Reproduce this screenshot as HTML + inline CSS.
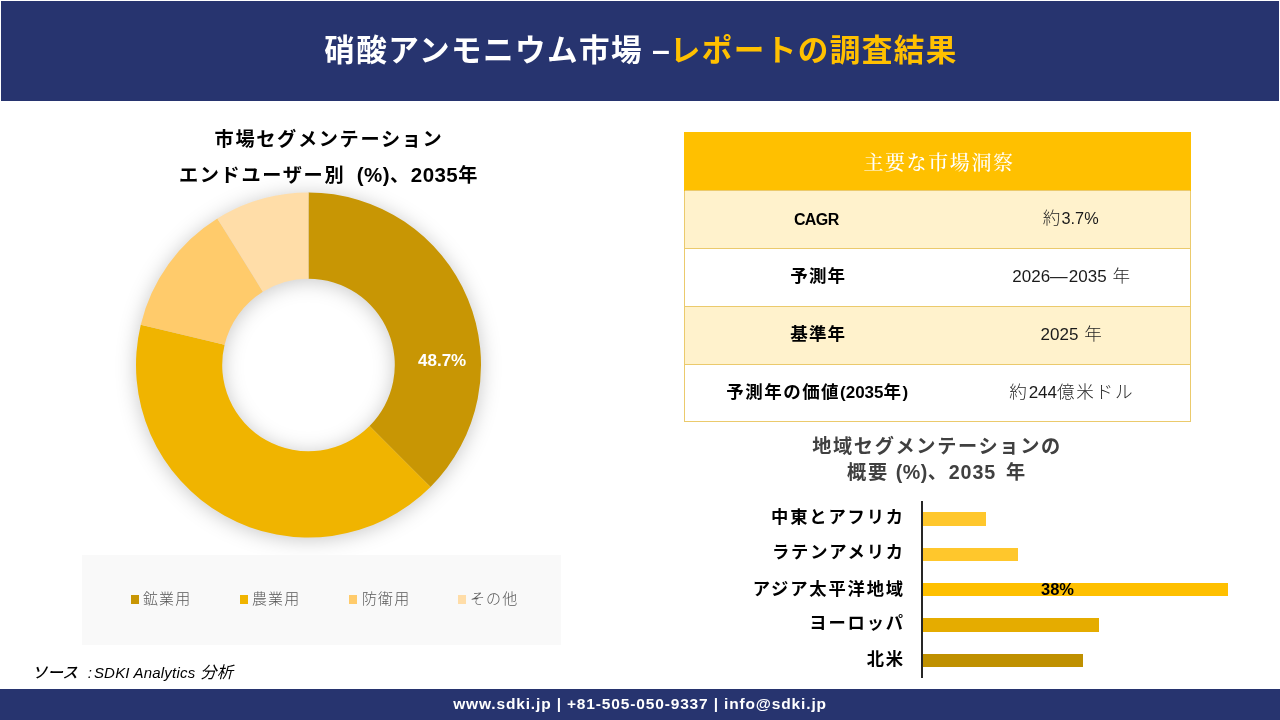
<!DOCTYPE html>
<html lang="ja">
<head>
<meta charset="utf-8">
<title>硝酸アンモニウム市場 –レポートの調査結果</title>
<style>
  html, body { margin: 0; padding: 0; }
  body {
    width: 1280px; height: 720px; overflow: hidden; position: relative;
    background: #ffffff; color: #000;
    font-family: "Liberation Sans", "Noto Sans CJK JP", sans-serif;
  }
  .abs { position: absolute; white-space: nowrap; }
  .header { left: 1px; top: 1px; width: 1278px; height: 100px; background: #27346f; }
  .title {
    left: 1px; width: 1280px; top: 27px; height: 46px; line-height: 46px; text-align: center;
    font-size: 30.6px; letter-spacing: 1.4px; font-weight: bold; color: #ffffff;
  }
  .title .d { font-size: 32px; letter-spacing: 0; }
  .title .y { color: #ffc000; }

  .ctitle { left: 109px; width: 440px; text-align: center; font-weight: bold; font-size: 19.2px; letter-spacing: 1.65px; line-height: 28px; color: #000; }
  .ctitle { word-spacing: 4.5px; }
  .ctitle .l { font-size: 20.5px; letter-spacing: 0.45px; }

  .legend { left: 82px; top: 555px; width: 479px; height: 90px; background: #f9f9f9; }
  .lg { font-size: 15px; letter-spacing: 1.1px; font-weight: 300; line-height: 20px; color: #595959; top: 589px; }
  .lg i { position: absolute; left: -12px; top: 6px; width: 8px; height: 9px; display: block; }

  .source { left: 32px; top: 661px; font-size: 16.3px; line-height: 22px; font-style: italic; color: #000; }
  .source .l { font-size: 15px; }
  .source .k { font-size: 15.5px; font-weight: 500; }

  .footer { left: 0; top: 689px; width: 1280px; height: 31px; background: #27346f; }
  .ftext { left: 0; width: 1280px; top: 693px; height: 22px; line-height: 22px; text-align: center; color: #fff; font-weight: bold; font-size: 15.5px; letter-spacing: 0.85px; }

  table.kt { position: absolute; left: 684px; top: 132px; width: 506px; border-collapse: collapse; table-layout: fixed; }
  table.kt th { background: #ffc000; border-left: 1px solid #ffc000; border-right: 1px solid #ffc000; height: 58px; padding: 0 0 0 3px; color: #fff; font-weight: 500;
    font-family: "Liberation Serif", "Noto Serif CJK SC", serif; font-size: 20px; letter-spacing: 1.6px; }
  table.kt td { height: 57px; padding: 0; text-align: center; line-height: 24px; border-top: 1px solid #ebca6c; border-bottom: 1px solid #ebca6c; }
  table.kt tr.o td { background: #fff2cc; }
  table.kt tr.last td { height: 56px; }
  table.kt td.k { font-weight: bold; font-size: 17.5px; letter-spacing: 1.17px; color: #000; border-left: 1px solid #ebca6c; }
  table.kt td.v { font-size: 17.6px; letter-spacing: 1.07px; color: #262626; font-weight: 300; border-right: 1px solid #ebca6c; }
  table.kt td span { position: relative; top: -2px; display: inline-block; }
  table.kt .l { font-size: 17px; letter-spacing: 0; }
  table.kt td.v .l { font-size: 17px; color: #1a1a1a; font-weight: normal; }
  .btitle { left: 737px; width: 400px; text-align: center; font-weight: bold; font-size: 19.2px; letter-spacing: 1.65px; line-height: 26px; color: #404040; }
  .btitle .l { font-size: 19.7px; letter-spacing: 0.5px; }
  .axis { left: 921px; top: 501px; width: 2px; height: 177px; background: #262626; }
  .bar { left: 923px; height: 14px; }
  .bl { right: 375px; font-weight: bold; font-size: 17.3px; letter-spacing: 1.85px; line-height: 24px; color: #000; text-align: right; }
  .pct { font-weight: bold; font-size: 16.5px; line-height: 18px; color: #000; }
  .dl { font-weight: bold; font-size: 17px; line-height: 18px; color: #fff; }
</style>
</head>
<body>
  <div class="abs header"></div>
  <div class="abs title">硝酸アンモニウム市場<span class="d"> –</span><span class="y">レポートの調査結果</span></div>

  <div class="abs ctitle" style="top:126px">市場セグメンテーション</div>
  <div class="abs ctitle" style="top:161px">エンドユーザー別 <span class="l">(%)</span>、<span class="l">2035</span>年</div>

  <svg class="abs" style="left:108px; top:165px; filter: drop-shadow(0 2px 10px rgba(0,0,0,0.22));" width="400" height="400" viewBox="-200.5 -200 400 400">
    <g>
    <path d="M0.00 -172.50A172.5 172.5 0 0 1 121.98 121.98L61.02 61.02A86.3 86.3 0 0 0 0.00 -86.30Z" fill="#c89604"/>
    <path d="M121.98 121.98A172.5 172.5 0 0 1 -167.73 -40.27L-83.92 -20.15A86.3 86.3 0 0 0 61.02 61.02Z" fill="#f0b400"/>
    <path d="M-167.73 -40.27A172.5 172.5 0 0 1 -91.16 -146.45L-45.60 -73.27A86.3 86.3 0 0 0 -83.92 -20.15Z" fill="#ffcb6b"/>
    <path d="M-91.16 -146.45A172.5 172.5 0 0 1 -0.00 -172.50L-0.00 -86.30A86.3 86.3 0 0 0 -45.60 -73.27Z" fill="#ffdda8"/>
    </g>
  </svg>
  <div class="abs dl" style="left:418px; top:352px;">48.7%</div>

  <div class="abs legend"></div>
  <div class="abs lg" style="left:143px"><i style="background:#c89604"></i>鉱業用</div>
  <div class="abs lg" style="left:252px"><i style="background:#f0b400"></i>農業用</div>
  <div class="abs lg" style="left:362px"><i style="left:-13px;background:#ffcb6b"></i>防衛用</div>
  <div class="abs lg" style="left:470px"><i style="background:#ffdda8"></i>その他</div>

  <div class="abs source"><span class="k">ソース</span><span class="l" style="margin-left:10px">:</span><span class="l" style="margin-left:2px; letter-spacing:0.2px">SDKI Analytics</span><span style="margin-left:5px">分析</span></div>

  <div class="abs footer"></div>
  <div class="abs ftext">www.sdki.jp | +81-505-050-9337 | info@sdki.jp</div>

  <table class="kt">
    <colgroup><col style="width:267px"><col style="width:239px"></colgroup>
    <tr><th colspan="2">主要な市場洞察</th></tr>
    <tr class="o"><td class="k"><span style="left:-2px;top:0px"><b class="l" style="font-size:16px;letter-spacing:-0.6px">CAGR</b></span></td><td class="v"><span>約<b class="l" style="font-size:16.3px">3.7%</b></span></td></tr>
    <tr><td class="k"><span>予測年</span></td><td class="v"><span style="left:1px;top:-1px"><b class="l">2026</b>―<b class="l">2035</b> 年</span></td></tr>
    <tr class="o"><td class="k"><span>基準年</span></td><td class="v"><span style="left:1px;top:-1px"><b class="l">2025</b> 年</span></td></tr>
    <tr class="last"><td class="k"><span style="left:-1px;top:-1px;letter-spacing:1.45px">予測年の価値<b class="l">(2035</b>年<b class="l">)</b></span></td><td class="v"><span style="left:1px;top:-1px;letter-spacing:1.7px">約<b class="l">244</b>億米ドル</span></td></tr>
  </table>

  <div class="abs btitle" style="top:434px">地域セグメンテーションの</div>
  <div class="abs btitle" style="top:459px">概要 <span class="l">(%)</span>、<span class="l" style="letter-spacing:0.9px">2035</span> <span style="margin-left:3px">年</span></div>

  <div class="abs axis"></div>
  <div class="abs bar" style="top:512px; width:63px; background:#ffc72c"></div>
  <div class="abs bar" style="top:548px; height:13px; width:95px; background:#ffc72c"></div>
  <div class="abs bar" style="top:583px; height:13px; width:305px; background:#ffc000"></div>
  <div class="abs bar" style="top:618px; width:176px; background:#e5ac00"></div>
  <div class="abs bar" style="top:654px; height:13px; width:160px; background:#bf9000"></div>
  <div class="abs bl" style="top:505px">中東とアフリカ</div>
  <div class="abs bl" style="top:540px">ラテンアメリカ</div>
  <div class="abs bl" style="top:576.5px">アジア太平洋地域</div>
  <div class="abs bl" style="top:611px">ヨーロッパ</div>
  <div class="abs bl" style="top:647px">北米</div>
  <div class="abs pct" style="left:1041px; top:580px">38%</div>
</body>
</html>
